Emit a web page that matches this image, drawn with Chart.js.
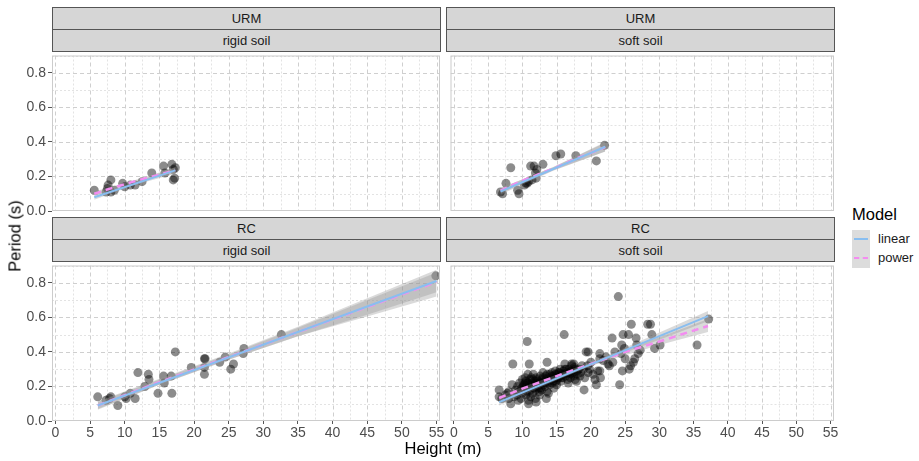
<!DOCTYPE html>
<html>
<head>
<meta charset="utf-8">
<script src="https://cdn.jsdelivr.net/npm/chart.js@4.4.1/dist/chart.umd.min.js"></script>
<style>
  body { margin: 0; background: #fff; }
  #fig { position: relative; width: 919px; height: 461px; overflow: hidden;
         font-family: "Liberation Sans", Arial, sans-serif; }
  #fig canvas { position: absolute; }
  .strip { position: absolute; box-sizing: border-box; background: #D6D6D6;
           border: 1px solid #555; text-align: center; font-size: 13px;
           color: #1A1A1A; line-height: 21px; }
  .title { position: absolute; font-size: 16.5px; color: #000; white-space: nowrap; }
  .key { position: absolute; left: 852px; width: 18px; height: 19px; background: #DCDCDC; }
  .key span { position: absolute; left: 2px; right: 2px; top: 8px; height: 0; }
  .keylab { position: absolute; left: 878px; font-size: 13px; color: #1A1A1A; }
</style>
</head>
<body>
<div id="fig"></div>
<script>
// facet labels and axis ticks
const typologies = ['URM', 'RC'];
const soilTypes = ['rigid soil', 'soft soil'];
const modelNames = ['linear', 'power'];
const heightTicks = [0, 5, 10, 15, 20, 25, 30, 35, 40, 45, 50, 55];
const periodTicks = [0, 0.2, 0.4, 0.6, 0.8];

// URM, rigid soil
const urmRigidH = [5.6, 7.3, 7.5, 7.6, 8.0, 8.0, 8.5, 9.7, 10.0, 10.8, 11.5, 12.5, 13.9, 15.6, 15.8, 16.8, 17.0, 17.3, 17.2, 17.0];
const urmRigidT = [0.12, 0.11, 0.13, 0.15, 0.18, 0.11, 0.12, 0.16, 0.14, 0.15, 0.15, 0.17, 0.22, 0.26, 0.22, 0.27, 0.24, 0.25, 0.19, 0.18];
const urmRigidLinH = [5.6, 17.3];
const urmRigidLinT = [0.08, 0.235];
const urmRigidPowH = [5.6, 8, 11, 14, 17.3];
const urmRigidPowT = [0.10, 0.131, 0.167, 0.200, 0.235];
const urmRigidBandH = [5.6, 11.5, 17.3];
const urmRigidLinLo = [0.065, 0.152, 0.215];
const urmRigidLinHi = [0.095, 0.166, 0.255];
const urmRigidPowLo = [0.088, 0.166, 0.218];
const urmRigidPowHi = [0.113, 0.180, 0.252];

// URM, soft soil
const urmSoftH = [6.8, 7.1, 7.6, 8.3, 9.3, 9.5, 10.3, 10.5, 10.7, 10.9, 11.2, 11.4, 11.7, 11.9, 12.0, 12.1, 13.0, 14.9, 15.6, 17.8, 20.8, 22.0];
const urmSoftT = [0.11, 0.10, 0.16, 0.25, 0.12, 0.10, 0.15, 0.16, 0.16, 0.17, 0.26, 0.18, 0.26, 0.22, 0.19, 0.24, 0.27, 0.32, 0.33, 0.32, 0.29, 0.38];
const urmSoftLinH = [6.8, 22.1];
const urmSoftLinT = [0.113, 0.372];
const urmSoftPowH = [6.8, 10, 14.5, 18, 22.1];
const urmSoftPowT = [0.118, 0.176, 0.245, 0.305, 0.370];
const urmSoftBandH = [6.8, 14.5, 22.1];
const urmSoftLinLo = [0.095, 0.233, 0.345];
const urmSoftLinHi = [0.131, 0.253, 0.400];
const urmSoftPowLo = [0.103, 0.236, 0.345];
const urmSoftPowHi = [0.133, 0.255, 0.395];

// RC, rigid soil
const rcRigidH = [6.1, 7.3, 7.8, 8.0, 9.0, 10.0, 10.2, 10.8, 11.5, 11.9, 12.9, 13.4, 13.5, 14.8, 15.6, 15.7, 16.7, 16.8, 17.3, 19.6, 21.5, 21.5, 21.5, 21.6, 23.7, 24.5, 25.3, 25.7, 27.1, 27.2, 32.6, 54.9];
const rcRigidT = [0.14, 0.12, 0.13, 0.14, 0.09, 0.14, 0.13, 0.16, 0.13, 0.28, 0.20, 0.27, 0.24, 0.16, 0.26, 0.22, 0.26, 0.16, 0.40, 0.31, 0.36, 0.31, 0.27, 0.36, 0.34, 0.37, 0.30, 0.33, 0.39, 0.42, 0.50, 0.84];
const rcRigidLinH = [6.1, 55];
const rcRigidLinT = [0.09, 0.81];
const rcRigidPowH = [6.1, 15, 25, 35, 45, 55];
const rcRigidPowT = [0.09, 0.225, 0.37, 0.515, 0.66, 0.805];
const rcRigidBandH = [6.1, 15, 25, 35, 45, 55];
const rcRigidLinLo = [0.065, 0.21, 0.355, 0.49, 0.615, 0.745];
const rcRigidLinHi = [0.115, 0.245, 0.39, 0.545, 0.71, 0.875];
const rcRigidPowLo = [0.07, 0.21, 0.355, 0.49, 0.605, 0.72];
const rcRigidPowHi = [0.11, 0.24, 0.385, 0.54, 0.70, 0.86];

// RC, soft soil
const rcSoftH = [
  6.6, 6.6, 7.0, 7.5, 8.0, 8.3, 8.5, 8.6, 8.0, 7.8,
  8.8, 9.0, 9.2, 9.3, 9.5, 9.6, 9.8, 9.9, 10.0, 10.0, 9.4,
  10.2, 10.3, 10.4, 10.5, 10.6, 10.7, 10.8, 10.9, 10.9, 11.0, 11.0, 11.1, 11.2, 10.8, 10.5,
  11.3, 11.4, 11.5, 11.6, 11.7, 11.8, 11.9, 12.0, 12.0, 11.5, 11.9,
  12.2, 12.3, 12.4, 12.5, 12.6, 12.7, 12.8, 12.9, 13.0, 13.0, 12.5,
  13.2, 13.3, 13.4, 13.5, 13.6, 13.6, 13.7, 13.8, 13.9, 14.0, 14.0,
  14.2, 14.3, 14.4, 14.5, 14.6, 14.8, 14.8, 14.9, 15.0, 15.0,
  15.2, 15.3, 15.5, 15.5, 15.6, 15.8, 15.9, 16.0, 16.1, 16.2, 16.2,
  16.3, 16.5, 16.6, 16.7, 16.8, 16.9, 17.0, 17.1, 17.2, 17.2,
  17.4, 17.5, 17.6, 17.7, 17.9, 18.0, 18.0, 17.5,
  18.2, 18.4, 18.5, 18.7, 18.9, 19.0, 19.1,
  19.3, 19.6, 19.5, 19.6, 19.8, 20.0, 20.3, 20.6, 20.8, 21.0, 21.3, 21.3, 21.3, 21.4,
  21.8, 22.2, 22.5, 22.7, 23.1, 23.2, 23.5, 24.0, 24.2, 24.4, 24.5, 24.6, 24.7, 24.9, 25.0,
  25.5, 25.6, 25.8, 25.9, 26.2, 26.4, 26.6, 26.7, 26.9, 27.2, 28.3, 28.7, 28.9, 29.3, 30.1,
  35.5, 37.2,
  10.1, 10.4, 10.7, 11.0, 11.3, 11.6, 11.9, 12.2, 12.4, 12.7, 13.0, 13.3, 13.6, 13.9,
  14.2, 14.5, 14.8, 15.1, 15.4, 15.7, 16.0, 16.4, 16.8, 17.2, 17.6, 10.9, 12.0, 13.5
];
const rcSoftT = [
  0.18, 0.14, 0.13, 0.15, 0.17, 0.10, 0.21, 0.33, 0.13, 0.16,
  0.14, 0.18, 0.15, 0.20, 0.17, 0.22, 0.13, 0.19, 0.24, 0.16, 0.12,
  0.21, 0.18, 0.25, 0.15, 0.20, 0.46, 0.22, 0.12, 0.19, 0.33, 0.17, 0.24, 0.14, 0.27, 0.23,
  0.20, 0.22, 0.16, 0.27, 0.19, 0.23, 0.13, 0.21, 0.25, 0.24, 0.18,
  0.20, 0.23, 0.22, 0.17, 0.26, 0.19, 0.18, 0.24, 0.21, 0.28, 0.15,
  0.23, 0.20, 0.26, 0.24, 0.34, 0.17, 0.22, 0.16, 0.25, 0.27, 0.21,
  0.24, 0.28, 0.22, 0.26, 0.19, 0.29, 0.25, 0.23, 0.27, 0.21,
  0.25, 0.28, 0.26, 0.30, 0.23, 0.27, 0.25, 0.29, 0.50, 0.33, 0.30,
  0.26, 0.28, 0.24, 0.22, 0.30, 0.27, 0.25, 0.29, 0.32, 0.33,
  0.28, 0.26, 0.30, 0.24, 0.23, 0.29, 0.27, 0.33,
  0.30, 0.26, 0.28, 0.32, 0.30, 0.18, 0.25,
  0.40, 0.40, 0.32, 0.28, 0.30, 0.34, 0.27, 0.24, 0.21, 0.29, 0.36, 0.39, 0.29, 0.25,
  0.35, 0.37, 0.33, 0.32, 0.48, 0.34, 0.40, 0.72, 0.21, 0.39, 0.44, 0.29, 0.50, 0.42, 0.36,
  0.50, 0.30, 0.32, 0.56, 0.34, 0.36, 0.48, 0.44, 0.39, 0.41, 0.56, 0.56, 0.50, 0.42, 0.44,
  0.44, 0.59,
  0.20, 0.22, 0.17, 0.21, 0.25, 0.19, 0.22, 0.24, 0.19, 0.22, 0.25, 0.22, 0.27, 0.23,
  0.26, 0.23, 0.27, 0.24, 0.28, 0.25, 0.27, 0.30, 0.28, 0.27, 0.31, 0.10, 0.11, 0.13
];
const rcSoftLinH = [6.6, 37.1];
const rcSoftLinT = [0.109, 0.607];
const rcSoftPowH = [6.6, 10, 15, 20, 25, 30, 37.1];
const rcSoftPowT = [0.133, 0.187, 0.26, 0.33, 0.40, 0.46, 0.55];
const rcSoftBandH = [6.6, 15, 22, 30, 37.1];
const rcSoftLinLo = [0.09, 0.236, 0.350, 0.470, 0.578];
const rcSoftLinHi = [0.128, 0.256, 0.372, 0.512, 0.636];
const rcSoftPowLo = [0.118, 0.252, 0.345, 0.44, 0.515];
const rcSoftPowHi = [0.148, 0.268, 0.372, 0.485, 0.59];

const LINEAR_COLOR = '#89BEF0';
const POWER_COLOR = '#F38DF0';
const BAND_FILL = 'rgba(150,150,150,0.35)';
const POINT_FILL = 'rgba(0,0,0,0.45)';
const FONT = '"Liberation Sans", Arial, sans-serif';

// panel geometry (plot area, in page pixels)
const PANEL_W = 388, PANEL_H = 160;
const COL_X = [52, 446];
const ROW_Y = [51, 261];
const Y_AXIS_W = 32, X_AXIS_H = 20, PAD_R = 12, PAD_B = 8;

const fig = document.getElementById('fig');
const xy = (xs, ys) => xs.map((x, i) => ({ x: x, y: ys[i] }));

// dashed major + dotted minor grid, and a light panel frame
const panelGrid = {
  id: 'panelGrid',
  beforeDatasetsDraw(chart) {
    const { ctx, chartArea: a, scales: { x, y } } = chart;
    const minorX = heightTicks.map(v => v + 2.5);
    const minorY = periodTicks.map(v => v + 0.1);
    ctx.save();
    ctx.beginPath();
    ctx.rect(a.left, a.top, a.width, a.height);
    ctx.clip();
    ctx.lineWidth = 1;
    const vline = v => {
      const px = Math.round(x.getPixelForValue(v)) + 0.5;
      ctx.beginPath(); ctx.moveTo(px, a.top); ctx.lineTo(px, a.bottom); ctx.stroke();
    };
    const hline = v => {
      const py = Math.round(y.getPixelForValue(v)) + 0.5;
      ctx.beginPath(); ctx.moveTo(a.left, py); ctx.lineTo(a.right, py); ctx.stroke();
    };
    ctx.strokeStyle = '#E3E3E3';
    ctx.setLineDash([2, 2]);
    minorX.forEach(vline);
    minorY.forEach(hline);
    ctx.strokeStyle = '#CFCFCF';
    ctx.setLineDash([4, 3]);
    heightTicks.forEach(vline);
    periodTicks.forEach(hline);
    ctx.restore();
  },
  afterDatasetsDraw(chart) {
    const { ctx, chartArea: a } = chart;
    ctx.save();
    ctx.strokeStyle = '#CCCCCC';
    ctx.lineWidth = 1;
    ctx.strokeRect(a.left + 0.5, a.top + 0.5, a.width - 1, a.height - 1);
    ctx.restore();
  }
};

function lineSet(xs, ys, color, dash, width) {
  return { data: xy(xs, ys), showLine: true, borderColor: color, borderWidth: width,
           borderDash: dash, pointRadius: 0, fill: false };
}

function bandSet(xs, ys, filled) {
  return { data: xy(xs, ys), showLine: true, borderWidth: 0, borderColor: 'rgba(0,0,0,0)',
           pointRadius: 0, backgroundColor: BAND_FILL, fill: filled ? '-1' : false };
}

function addStrip(text, left, top) {
  const d = document.createElement('div');
  d.className = 'strip';
  d.textContent = text;
  Object.assign(d.style, { left: left + 'px', top: top + 'px',
                           width: (PANEL_W + 1) + 'px', height: '23px' });
  fig.appendChild(d);
}

function makePanel(row, col, s) {
  const hasY = col === 0, hasX = row === 1;
  const padB = hasX ? 0 : PAD_B;
  const yW = hasY ? Y_AXIS_W : 0, xH = hasX ? X_AXIS_H : 0;
  const w = PANEL_W + yW + PAD_R;
  const h = PANEL_H + xH + padB;
  const canvas = document.createElement('canvas');
  canvas.width = w; canvas.height = h;
  canvas.style.left = (COL_X[col] - yW) + 'px';
  canvas.style.top = ROW_Y[row] + 'px';
  canvas.style.width = w + 'px'; canvas.style.height = h + 'px';
  fig.appendChild(canvas);

  addStrip(typologies[row], COL_X[col], ROW_Y[row] - 44);
  addStrip(soilTypes[col], COL_X[col], ROW_Y[row] - 22);

  const tickFont = { family: FONT, size: 14 };
  new Chart(canvas, {
    type: 'scatter',
    data: {
      datasets: [
        lineSet(s.linH, s.linT, LINEAR_COLOR, [], 2),
        lineSet(s.powH, s.powT, POWER_COLOR, [7, 5], 2.5),
        bandSet(s.bandH, s.linLo, false),
        bandSet(s.bandH, s.linHi, true),
        bandSet(s.bandH, s.powLo, false),
        bandSet(s.bandH, s.powHi, true),
        { data: xy(s.h, s.t), pointRadius: 4.5, pointBackgroundColor: POINT_FILL,
          pointBorderWidth: 0, borderColor: 'rgba(0,0,0,0)' }
      ]
    },
    options: {
      responsive: false,
      animation: false,
      events: [],
      layout: { padding: { top: 0, left: 0, right: PAD_R, bottom: padB } },
      plugins: { legend: { display: false }, tooltip: { enabled: false } },
      scales: {
        x: {
          type: 'linear', min: -0.5, max: 55.5, display: hasX,
          afterBuildTicks: sc => { sc.ticks = heightTicks.map(v => ({ value: v })); },
          // fixed axis band; label overhang is covered by the layout padding
          afterFit: sc => { sc.height = xH; sc.paddingLeft = 0; sc.paddingRight = 0; },
          grid: { drawOnChartArea: false, tickLength: 3, tickColor: '#555', color: '#555' },
          border: { display: false },
          ticks: { color: '#4D4D4D', font: tickFont, padding: 1, maxRotation: 0, autoSkip: false }
        },
        y: {
          type: 'linear', min: 0, max: 0.9, display: hasY,
          afterBuildTicks: sc => { sc.ticks = periodTicks.map(v => ({ value: v })); },
          afterFit: sc => { sc.width = yW; sc.paddingTop = 0; sc.paddingBottom = 0; },
          grid: { drawOnChartArea: false, tickLength: 4, tickColor: '#555', color: '#555' },
          border: { display: false },
          ticks: { color: '#4D4D4D', font: tickFont, padding: 2,
                   callback: v => Number(v).toFixed(1) }
        }
      }
    },
    plugins: [panelGrid]
  });
}

makePanel(0, 0, { h: urmRigidH, t: urmRigidT, linH: urmRigidLinH, linT: urmRigidLinT,
  powH: urmRigidPowH, powT: urmRigidPowT, bandH: urmRigidBandH,
  linLo: urmRigidLinLo, linHi: urmRigidLinHi, powLo: urmRigidPowLo, powHi: urmRigidPowHi });
makePanel(0, 1, { h: urmSoftH, t: urmSoftT, linH: urmSoftLinH, linT: urmSoftLinT,
  powH: urmSoftPowH, powT: urmSoftPowT, bandH: urmSoftBandH,
  linLo: urmSoftLinLo, linHi: urmSoftLinHi, powLo: urmSoftPowLo, powHi: urmSoftPowHi });
makePanel(1, 0, { h: rcRigidH, t: rcRigidT, linH: rcRigidLinH, linT: rcRigidLinT,
  powH: rcRigidPowH, powT: rcRigidPowT, bandH: rcRigidBandH,
  linLo: rcRigidLinLo, linHi: rcRigidLinHi, powLo: rcRigidPowLo, powHi: rcRigidPowHi });
makePanel(1, 1, { h: rcSoftH, t: rcSoftT, linH: rcSoftLinH, linT: rcSoftLinT,
  powH: rcSoftPowH, powT: rcSoftPowT, bandH: rcSoftBandH,
  linLo: rcSoftLinLo, linHi: rcSoftLinHi, powLo: rcSoftPowLo, powHi: rcSoftPowHi });

// axis titles
const xTitle = document.createElement('div');
xTitle.className = 'title';
xTitle.textContent = 'Height (m)';
Object.assign(xTitle.style, { left: '443px', top: '439px', transform: 'translateX(-50%)' });
fig.appendChild(xTitle);

const yTitle = document.createElement('div');
yTitle.className = 'title';
yTitle.textContent = 'Period (s)';
Object.assign(yTitle.style, { left: '15px', top: '236px',
  transform: 'translate(-50%, -50%) rotate(-90deg)' });
fig.appendChild(yTitle);

// legend
const legTitle = document.createElement('div');
legTitle.className = 'title';
legTitle.textContent = 'Model';
Object.assign(legTitle.style, { left: '852px', top: '205px' });
fig.appendChild(legTitle);

[LINEAR_COLOR, POWER_COLOR].forEach((color, i) => {
  const key = document.createElement('div');
  key.className = 'key';
  key.style.top = (230 + i * 19) + 'px';
  const mark = document.createElement('span');
  mark.style.borderTop = '2px ' + (i === 0 ? 'solid ' : 'dashed ') + color;
  key.appendChild(mark);
  fig.appendChild(key);
  const lab = document.createElement('div');
  lab.className = 'keylab';
  lab.textContent = modelNames[i];
  lab.style.top = (231 + i * 19) + 'px';
  fig.appendChild(lab);
});
</script>
</body>
</html>
